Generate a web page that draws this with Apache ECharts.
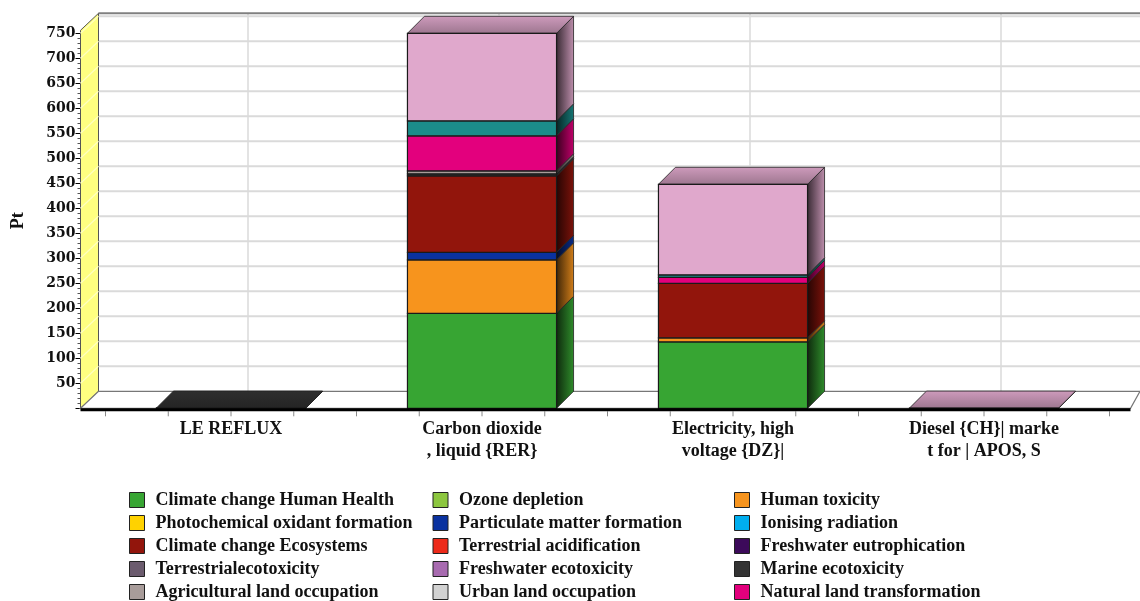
<!DOCTYPE html>
<html><head><meta charset="utf-8">
<script src="https://cdn.jsdelivr.net/npm/echarts@6/dist/echarts.min.js"></script>
<style>html,body{margin:0;padding:0;background:#fff}#c{width:1140px;height:601px}</style>
</head><body><div id="c"></div>
<script>
// ---------- data ----------
const categories = ['LE REFLUX', 'Carbon dioxide\n, liquid {RER}', 'Electricity, high\nvoltage {DZ}|', 'Diesel {CH}| marke\nt for | APOS, S'];
const yTickValues = [50, 100, 150, 200, 250, 300, 350, 400, 450, 500, 550, 600, 650, 700, 750];

const impactNames = [
  'Climate change Human Health', 'Ozone depletion', 'Human toxicity',
  'Photochemical oxidant formation', 'Particulate matter formation', 'Ionising radiation',
  'Climate change Ecosystems', 'Terrestrial acidification', 'Freshwater eutrophication',
  'Terrestrialecotoxicity', 'Freshwater ecotoxicity', 'Marine ecotoxicity',
  'Agricultural land occupation', 'Urban land occupation', 'Natural land transformation',
  'Metal depletion', 'Fossil depletion'
];
const impactColors = [
  '#37a533', '#8cc63f', '#f7941d',
  '#ffd200', '#0a32a0', '#00aeef',
  '#92150c', '#ed2a1a', '#3c0a5a',
  '#6b5b6e', '#a86bb0', '#333333',
  '#a89c9a', '#d2d2d2', '#e3007d',
  '#1b8c8a', '#e0a8cc'
];
// values per category: [LE REFLUX, Carbon dioxide, Electricity, Diesel]
const climateChangeHumanHealth   = [0, 190, 133, 0];
const ozoneDepletion             = [0, 0, 0, 0];
const humanToxicity              = [0, 107, 8, 0];
const photochemicalOxidant       = [0, 0, 0, 0];
const particulateMatter          = [0.3, 15, 0, 0];
const ionisingRadiation          = [0, 0, 0, 0];
const climateChangeEcosystems    = [0, 153, 109, 0];
const terrestrialAcidification   = [0, 0, 0, 0];
const freshwaterEutrophication   = [0, 0, 0, 0];
const terrestrialEcotoxicity     = [0, 0, 0, 0];
const freshwaterEcotoxicity      = [0, 0, 0, 0];
const marineEcotoxicity          = [0.3, 4, 0, 0];
const agriculturalLandOccupation = [0, 6, 0, 0];
const urbanLandOccupation        = [0, 0, 0, 0];
const naturalLandTransformation  = [0, 70, 12, 0];
const metalDepletion             = [0, 30, 5, 0];
const fossilDepletion            = [0, 175, 181, 0.4];

const impactValues = [
  climateChangeHumanHealth, ozoneDepletion, humanToxicity,
  photochemicalOxidant, particulateMatter, ionisingRadiation,
  climateChangeEcosystems, terrestrialAcidification, freshwaterEutrophication,
  terrestrialEcotoxicity, freshwaterEcotoxicity, marineEcotoxicity,
  agriculturalLandOccupation, urbanLandOccupation, naturalLandTransformation,
  metalDepletion, fossilDepletion
];
const legendCol1 = ['Climate change Human Health', 'Photochemical oxidant formation', 'Climate change Ecosystems', 'Terrestrialecotoxicity', 'Agricultural land occupation'];
const legendCol2 = ['Ozone depletion', 'Particulate matter formation', 'Terrestrial acidification', 'Freshwater ecotoxicity', 'Urban land occupation'];
const legendCol3 = ['Human toxicity', 'Ionising radiation', 'Freshwater eutrophication', 'Marine ecotoxicity', 'Natural land transformation'];

// ---------- helpers ----------
const DX = 17, DY = 17;
function shade(hex, f) {
  const n = parseInt(hex.slice(1), 16);
  const r = Math.round(((n >> 16) & 255) * f), g = Math.round(((n >> 8) & 255) * f), b = Math.round((n & 255) * f);
  return 'rgb(' + Math.min(255, r) + ',' + Math.min(255, g) + ',' + Math.min(255, b) + ')';
}

// stacking bases and top flags
const running = categories.map(() => 0);
const topIndex = categories.map((_, ci) => {
  let t = -1; impactValues.forEach((arr, si) => { if (arr[ci] > 0) t = si; }); return t;
});
const barSeries = impactValues.map((arr, si) => {
  const data = [];
  arr.forEach((v, ci) => {
    if (v > 0) { data.push([ci, running[ci], v, topIndex[ci] === si ? 1 : 0]); running[ci] += v; }
  });
  const color = impactColors[si];
  return {
    name: impactNames[si], type: 'custom', z: 3, data: data,
    itemStyle: { color: color, borderColor: '#222', borderWidth: 1 },
    encode: { x: 0, y: [1, 2] },
    renderItem: function (params, api) {
      const ci = api.value(0), base = api.value(1), val = api.value(2), isTop = api.value(3);
      const b = api.coord([ci, base]), t = api.coord([ci, base + val]);
      const bw = api.size([1, 0])[0] * 0.594;
      const x0 = b[0] - bw / 2, x1 = b[0] + bw / 2, yb = b[1], yt = t[1];
      const children = [];
      children.push({ type: 'polygon', shape: { points: [[x1, yt], [x1 + DX, yt - DY], [x1 + DX, yb - DY], [x1, yb]] },
        style: { fill: new echarts.graphic.LinearGradient(0, 0, 1, 0, [{ offset: 0, color: shade(color, 0.25) }, { offset: 1, color: shade(color, 0.85) }]), stroke: '#222', lineWidth: 0.8 } });
      if (isTop) {
        children.push({ type: 'polygon', shape: { points: [[x0, yt], [x0 + DX, yt - DY], [x1 + DX, yt - DY], [x1, yt]] },
          style: { fill: new echarts.graphic.LinearGradient(0, 0, 0, 1, [{ offset: 0, color: shade(color, 0.92) }, { offset: 1, color: shade(color, 0.7) }]), stroke: '#222', lineWidth: 0.8 } });
      }
      children.push({ type: 'rect', shape: { x: x0, y: yt, width: bw, height: yb - yt },
        style: { fill: color, stroke: '#1a1a1a', lineWidth: 1.2 } });
      return { type: 'group', children: children };
    }
  };
});

const bgSeries = {
  type: 'custom', z: 1, silent: true, data: [[0, 0]],
  renderItem: function (params, api) {
    const cs = params.coordSys;
    const y0 = api.coord([0, 0])[1];
    const yMax = api.coord([0, 750])[1];
    const band = api.size([1, 0])[0];
    const axisX = cs.x - 25, wallX = axisX + DX + 1;
    const rightFront = cs.x + cs.width + 21, rightBack = 1140;
    const yTop = yMax - DY - 3, floorBack = y0 - DY;
    const ch = [];
    ch.push({ type: 'rect', shape: { x: wallX, y: yTop, width: rightBack - wallX, height: floorBack - yTop }, style: { fill: '#fff' } });
    yTickValues.forEach(v => {
      const y = api.coord([0, v])[1] - DY;
      ch.push({ type: 'line', shape: { x1: wallX, y1: y, x2: rightBack, y2: y }, style: { stroke: '#dadada', lineWidth: 2 } });
    });
    categories.forEach((c, ci) => {
      const x = api.coord([ci, 0])[0] + DX;
      ch.push({ type: 'line', shape: { x1: x, y1: yTop, x2: x, y2: floorBack }, style: { stroke: '#dadada', lineWidth: 1.5 } });
    });
    ch.push({ type: 'line', shape: { x1: wallX, y1: yTop, x2: rightBack, y2: yTop }, style: { stroke: '#808080', lineWidth: 2 } });
    // yellow left wall
    ch.push({ type: 'polygon', shape: { points: [[axisX, y0], [axisX, yMax - 3], [wallX, yTop], [wallX, floorBack]] }, style: { fill: '#ffff80', stroke: '#555', lineWidth: 1 } });
    yTickValues.forEach(v => {
      const y = api.coord([0, v])[1];
      ch.push({ type: 'line', shape: { x1: axisX, y1: y, x2: wallX, y2: y - DY }, style: { stroke: '#ffffc0', lineWidth: 1.2 } });
    });
    // floor
    ch.push({ type: 'polygon', shape: { points: [[axisX, y0], [wallX, floorBack], [rightBack, floorBack], [rightFront, y0]] }, style: { fill: '#fff', stroke: '#777', lineWidth: 1.2 } });
    // category ticks
    const c0 = api.coord([0, 0])[0];
    for (let k = -2; k <= 16; k++) {
      const x = c0 + k * band / 4;
      if (x > axisX + 2 && x < rightFront) ch.push({ type: 'line', shape: { x1: x, y1: y0 + 3, x2: x, y2: y0 + 8 }, style: { stroke: '#888', lineWidth: 1 } });
    }
    return { type: 'group', children: ch };
  }
};

const frontSeries = {
  type: 'custom', z: 4, silent: true, data: [[0, 0]],
  renderItem: function (params, api) {
    const cs = params.coordSys;
    const y0 = api.coord([0, 0])[1];
    const axisX = cs.x - 25, rightFront = cs.x + cs.width + 21;
    return { type: 'line', shape: { x1: axisX, y1: y0 + 1.5, x2: rightFront, y2: y0 + 1.5 }, style: { stroke: '#000', lineWidth: 3 } };
  }
};

const legendText = { fontFamily: 'Liberation Serif', fontWeight: 'bold', fontSize: 18, color: '#111', lineHeight: 18, padding: [0, 0, 0, 6] };
function mkLegend(left, data) {
  return { orient: 'vertical', left: left, top: 491, padding: 0, height: 200, itemWidth: 15, itemHeight: 15, itemGap: 5, icon: 'rect',
    itemStyle: { borderColor: '#222', borderWidth: 1 }, textStyle: legendText, data: data, selectedMode: false };
}

const chart = echarts.init(document.getElementById('c'), null, { renderer: 'canvas' });
chart.setOption({
  animation: false,
  backgroundColor: '#fff',
  grid: { left: 105.5, right: 30.5, top: 33.3, bottom: 192.7, containLabel: false, outerBoundsMode: 'none' },
  xAxis: {
    type: 'category', data: categories,
    axisLine: { show: false }, axisTick: { show: false }, splitLine: { show: false },
    axisLabel: { interval: 0, margin: 10, fontFamily: 'Liberation Serif', fontWeight: 'bold', fontSize: 18, lineHeight: 22, color: '#111' }
  },
  yAxis: {
    type: 'value', min: 0, max: 750, interval: 50, offset: 25,
    name: 'Pt', nameLocation: 'middle', nameGap: 53, nameRotate: 90,
    nameTextStyle: { fontFamily: 'Liberation Serif', fontWeight: 'bold', fontSize: 18, color: '#111' },
    axisLine: { show: true, lineStyle: { color: '#000', width: 2 } },
    axisTick: { show: true, length: 5, lineStyle: { color: '#000' } },
    minorTick: { show: true, splitNumber: 5, length: 3, lineStyle: { color: '#555' } },
    splitLine: { show: false },
    axisLabel: { showMinLabel: false, margin: 5, fontFamily: 'DejaVu Serif', fontWeight: 'bold', fontSize: 14, color: '#111' }
  },
  legend: [mkLegend(129, legendCol1), mkLegend(432.5, legendCol2), mkLegend(734, legendCol3)],
  series: [bgSeries].concat(barSeries).concat([frontSeries])
});
</script></body></html>
